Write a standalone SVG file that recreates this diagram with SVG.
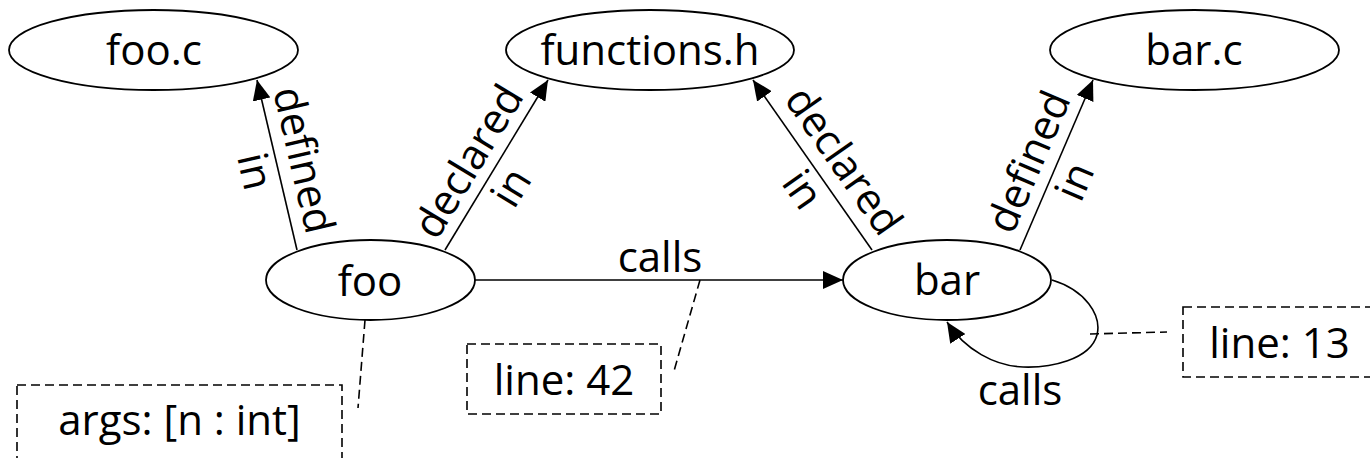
<svg xmlns="http://www.w3.org/2000/svg" width="1370" height="458" viewBox="0 0 1370 458">
  <style>
    text { font-family: "Open Sans", "DejaVu Sans", sans-serif; font-size: 42px; fill: #000; text-anchor: middle; }
    .node { fill: #fff; stroke: #000; stroke-width: 1.8; }
    .edge { fill: none; stroke: #000; stroke-width: 1.6; }
    .note { fill: #fff; stroke: #000; stroke-width: 1.6; stroke-dasharray: 9 5; }
    .link { fill: none; stroke: #000; stroke-width: 1.6; stroke-dasharray: 9 5; }
  </style>
  <defs>
    <marker id="arrow" markerUnits="userSpaceOnUse" viewBox="0 0 20 18" markerWidth="20" markerHeight="18" refX="20" refY="9" orient="auto">
      <path d="M0,0 L20,9 L0,18 z" fill="#000"/>
    </marker>
  </defs>

  <!-- file nodes -->
  <g id="foo_c">
    <ellipse class="node" cx="153.5" cy="50" rx="144.5" ry="40"/>
    <text x="154" y="65">foo.c</text>
  </g>
  <g id="functions_h">
    <ellipse class="node" cx="650" cy="50" rx="144" ry="40"/>
    <text x="650" y="65">functions.h</text>
  </g>
  <g id="bar_c">
    <ellipse class="node" cx="1194.5" cy="50" rx="144.5" ry="40"/>
    <text x="1194" y="65">bar.c</text>
  </g>

  <!-- function nodes -->
  <g id="foo">
    <ellipse class="node" cx="370.5" cy="280" rx="104.5" ry="40"/>
    <text x="370" y="296">foo</text>
  </g>
  <g id="bar">
    <ellipse class="node" cx="947" cy="280" rx="104" ry="40"/>
    <text x="947" y="295">bar</text>
  </g>

  <!-- annotation notes -->
  <g id="note_args">
    <rect class="note" x="17" y="385" width="325" height="100"/>
    <text x="179.5" y="435">args: [n : int]</text>
  </g>
  <g id="note_line42">
    <rect class="note" x="467" y="344" width="194" height="70"/>
    <text x="564" y="395">line: 42</text>
  </g>
  <g id="note_line13">
    <rect class="note" x="1183" y="307" width="200" height="70"/>
    <text x="1279.5" y="358">line: 13</text>
  </g>

  <!-- connectors -->
  <g id="connectors">
    <path class="edge" d="M297,250 L257,80" marker-end="url(#arrow)"/>
    <path class="edge" d="M445,250 L548,80" marker-end="url(#arrow)"/>
    <path class="edge" d="M872,250 L753,80" marker-end="url(#arrow)"/>
    <path class="edge" d="M1020,250 L1093,80" marker-end="url(#arrow)"/>
    <path class="edge" d="M475,280 L843,280" marker-end="url(#arrow)"/>
    <path class="edge" d="M1052,280 C1085,290 1102,315 1097,335 C1090,360 1050,368 1023,367 C995,366 965,350 947,322" marker-end="url(#arrow)"/>

    <!-- edge labels -->
    <text transform="translate(278,166) rotate(77)"><tspan x="0" y="-12">defined</tspan><tspan x="0" y="38">in</tspan></text>
    <text transform="translate(491,175) rotate(-58.8)"><tspan x="0" y="-12">declared</tspan><tspan x="0" y="38">in</tspan></text>
    <text transform="translate(822,176) rotate(55)"><tspan x="0" y="-12">declared</tspan><tspan x="0" y="38">in</tspan></text>
    <text transform="translate(1053,172) rotate(-66.8)"><tspan x="0" y="-12">defined</tspan><tspan x="0" y="38">in</tspan></text>
    <text x="660" y="272">calls</text>
    <text x="1020" y="405">calls</text>

    <!-- note attachments -->
    <path class="link" d="M365,320 L358,408"/>
    <path class="link" d="M700,280 L674,371"/>
    <path class="link" d="M1090,334 L1167,332"/>
  </g>
</svg>
